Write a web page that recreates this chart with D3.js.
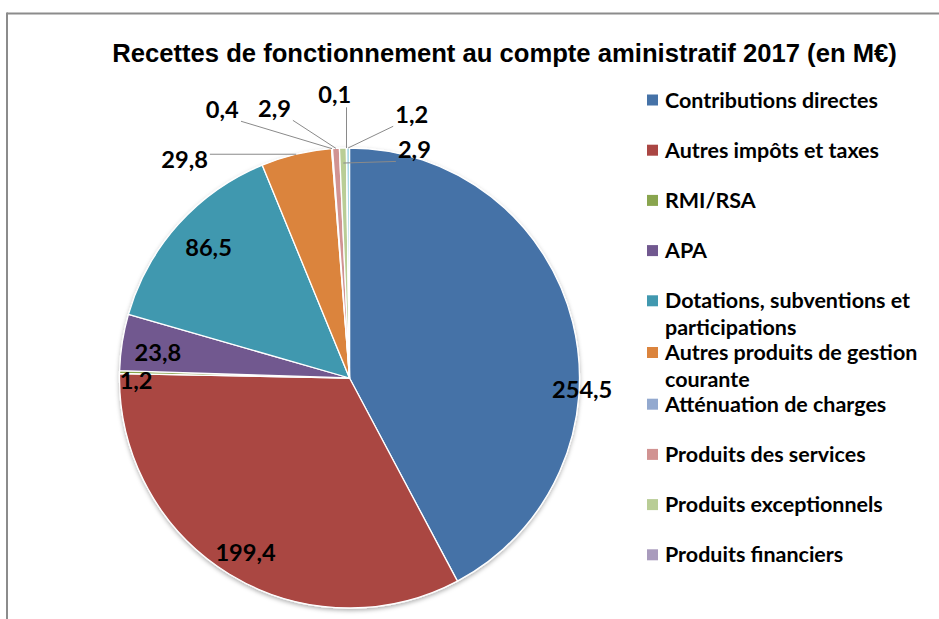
<!DOCTYPE html>
<html>
<head>
<meta charset="utf-8">
<script src="https://cdn.jsdelivr.net/npm/d3@7"></script>
<style>
  html, body { margin: 0; padding: 0; background: #fff; }
  svg { display: block; }
</style>
</head>
<body>
<svg id="chart" width="939" height="619"></svg>
<script>
// Recettes de fonctionnement, compte administratif 2017 (M€)
const categories = [
  "Contributions directes",
  "Autres impôts et taxes",
  "RMI/RSA",
  "APA",
  "Dotations, subventions et participations",
  "Autres produits de gestion courante",
  "Atténuation de charges",
  "Produits des services",
  "Produits exceptionnels",
  "Produits financiers",
  "Reprises sur provisions"
];
const values = [254.5, 199.4, 1.2, 23.8, 86.5, 29.8, 0.4, 2.9, 2.9, 0.1, 1.2];
const colors = [
  "#4572A7", "#AA4643", "#89A54E", "#71588F", "#4198AF", "#DB843D",
  "#93A9CF", "#D19392", "#B9CD96", "#A99BBD", "#9FD3E3"
];
const legendCount = 10; // entries that fit in the legend box

// Label placement: polar position of each value label (degrees clockwise from
// 12 o'clock, fraction of the radius), and where its leader line ends.
const labelSpots = [
  { a: 93.0, k: 1.013 },
  { a: 210.7, k: 0.885 },
  { a: 269.2, k: 0.928 },
  { a: 277.4, k: 0.840 },
  { a: 312.7, k: 0.834 },
  { a: 322.9, k: 1.189, lead: 1.0 },
  { a: 334.6, k: 1.290, lead: 1.0 },
  { a: 344.4, k: 1.214, lead: 1.0 },
  { a: 15.9, k: 1.030, lead: 0.935 },
  { a: 357.0, k: 1.232, lead: 1.0 },
  { a: 13.3, k: 1.175, lead: 1.0 }
];

const svg = d3.select("#chart");
const W = 939, H = 619;
const cx = 349.5, cy = 378, R = 230;
const labelFont = "Lato, 'Open Sans', sans-serif";

// frame
svg.append("line").attr("x1", 7).attr("x2", W).attr("y1", 13.5).attr("y2", 13.5)
  .attr("stroke", "#8c8c8c").attr("stroke-width", 2);
svg.append("line").attr("x1", 7).attr("x2", 7).attr("y1", 12.5).attr("y2", H)
  .attr("stroke", "#8c8c8c").attr("stroke-width", 2);

// title, sized to its box width
const title = svg.append("text")
  .attr("x", 504.5).attr("y", 62)
  .attr("text-anchor", "middle")
  .style("font-family", "'Liberation Sans', Arial, sans-serif")
  .style("font-weight", "bold")
  .style("font-size", "22px")
  .attr("fill", "#000")
  .text("Recettes de fonctionnement au compte aministratif 2017 (en M€)");
const tw = title.node().getComputedTextLength();
title.style("font-size", (22 * 785 / tw).toFixed(2) + "px");

// drop shadow under the pie
const defs = svg.append("defs");
const f = defs.append("filter").attr("id", "shadow")
  .attr("x", "-10%").attr("y", "-10%").attr("width", "120%").attr("height", "125%");
f.append("feDropShadow").attr("dx", 0).attr("dy", 2).attr("stdDeviation", 2)
  .attr("flood-color", "#000").attr("flood-opacity", 0.3);

const pie = d3.pie().sort(null).value(d => d)(values);
const arc = d3.arc().innerRadius(0).outerRadius(R);
const color = d3.scaleOrdinal().domain(d3.range(values.length)).range(colors);

const g = svg.append("g").attr("transform", `translate(${cx},${cy})`);
g.append("g").attr("filter", "url(#shadow)")
  .selectAll("path").data(pie).join("path")
  .attr("d", arc)
  .attr("fill", (d, i) => color(i))
  .attr("stroke", "#fff")
  .attr("stroke-width", 1.3)
  .attr("stroke-linejoin", "round");

const fmt = v => d3.format(".1f")(v).replace(".", ",");
const polar = (deg, r) => {
  const t = deg * Math.PI / 180;
  return [r * Math.sin(t), -r * Math.cos(t)];
};

// legend font size, set from the width of the first entry
const probe = svg.append("text")
  .style("font-family", labelFont).style("font-weight", "bold").style("font-size", "19px")
  .text(categories[0]);
const legendSize = 19 * 213 / probe.node().getComputedTextLength();
probe.remove();
const valueSize = legendSize * 1.1;

// value labels
const leaders = g.append("g");
const labels = g.append("g").selectAll("text").data(pie).join("text")
  .attr("x", (d, i) => polar(labelSpots[i].a, labelSpots[i].k * R)[0])
  .attr("y", (d, i) => polar(labelSpots[i].a, labelSpots[i].k * R)[1])
  .attr("text-anchor", "middle")
  .attr("dy", "0.35em")
  .style("font-family", labelFont)
  .style("font-weight", "bold")
  .style("font-size", valueSize.toFixed(2) + "px")
  .attr("fill", "#000")
  .text(d => fmt(d.value));

// leader lines for labels set outside the pie
labels.each(function(d, i) {
  const s = labelSpots[i];
  if (s.lead === undefined) return;
  const mid = (d.startAngle + d.endAngle) / 2 * 180 / Math.PI;
  const [tx, ty] = polar(mid, s.lead * R);
  const b = this.getBBox();
  let sx, sy;
  if (tx < b.x) sx = b.x - 2;
  else if (tx > b.x + b.width) sx = b.x + b.width + 2;
  else sx = tx;
  const top = b.y + 3, bot = b.y + b.height - 2;
  if (sx === tx) sy = ty < top ? top : bot + 1;
  else sy = Math.max(top, Math.min(bot, ty));
  leaders.append("line")
    .attr("x1", sx).attr("y1", sy).attr("x2", tx).attr("y2", ty)
    .attr("stroke", "#8a8a8a").attr("stroke-width", 1);
});

// legend
const legend = svg.append("g");
const lx = 647, tx0 = 665, maxW = 262;

function wrap(str) {
  const t = legend.append("text")
    .style("font-family", labelFont).style("font-weight", "bold")
    .style("font-size", legendSize + "px");
  const words = str.split(" ");
  const lines = [];
  let cur = "";
  words.forEach(w => {
    const trial = cur ? cur + " " + w : w;
    t.text(trial);
    if (t.node().getComputedTextLength() > maxW && cur) { lines.push(cur); cur = w; }
    else cur = trial;
  });
  lines.push(cur);
  t.remove();
  return lines;
}

let yCur = 100;
categories.slice(0, legendCount).forEach((name, i) => {
  const lines = wrap(name);
  legend.append("rect")
    .attr("x", lx).attr("y", yCur - 5.5).attr("width", 11).attr("height", 11)
    .attr("fill", color(i));
  lines.forEach((ln, j) => {
    legend.append("text")
      .attr("x", tx0).attr("y", yCur + j * 26.5)
      .attr("dy", "0.35em")
      .style("font-family", labelFont).style("font-weight", "bold")
      .style("font-size", legendSize.toFixed(2) + "px")
      .attr("fill", "#000")
      .text(ln);
  });
  yCur += lines.length > 1 ? 51.7 : 50.2;
});
</script>
</body>
</html>
